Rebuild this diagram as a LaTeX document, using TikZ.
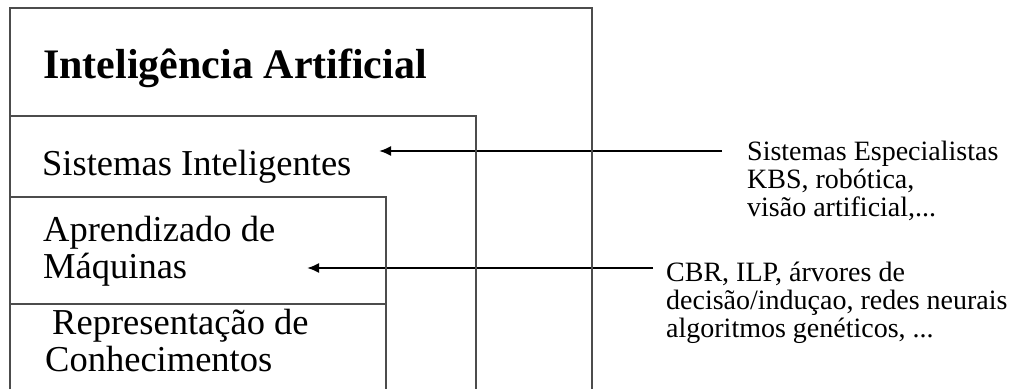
\documentclass[tikz,border=0pt]{standalone}
\usepackage{fontspec}
\setmainfont{Liberation Serif}
\usetikzlibrary{arrows.meta}
\newcommand{\TitleSize}{\fontsize{42}{42}\selectfont}
\newcommand{\BoxSize}{\fontsize{36.5}{37}\selectfont}
\newcommand{\NoteSize}{\fontsize{28}{28}\selectfont}

\begin{document}
\begin{tikzpicture}[x=1pt,y=-1pt,
        boxline/.style={draw=black!70,line width=1.3pt},
        boxtext/.style={inner sep=0pt,anchor=base west,align=left,font=\BoxSize},
        notetext/.style={boxtext,font=\NoteSize},
        linkarrow/.style={-{Latex[length=12pt,width=10pt]},line width=2pt}]
                \useasboundingbox (0,0) rectangle (1017,389);

                \coordinate (sistart) at (722,151);
                \coordinate (sitip) at (379,151);
                \coordinate (amstart) at (653,268);
                \coordinate (amtip) at (307,268);
                \draw[linkarrow] (sistart) -- (sitip);
                \draw[linkarrow] (amstart) -- (amtip);

                % nested boxes, open at the bottom
                \draw[boxline] (10,389) -- (10,8) -- (592,8) -- (592,389);
                \draw[boxline] (10,116) -- (476,116) -- (476,389);
                \draw[boxline] (10,197) -- (386,197) -- (386,389);
                \draw[boxline] (10,304) -- (386,304);

                % base anchor = baseline of the last line
                \draw (43,78) node[boxtext,font=\TitleSize\bfseries] (ia)
                    {Inteligência Artificial};
                \draw (42,175) node[boxtext] (si) {Sistemas Inteligentes};
                \draw (43,278) node[boxtext] (am) {Aprendizado de\\ Máquinas};
                \draw (45,371) node[boxtext] (rc)
                    {\hspace*{7pt}Representação de\\ Conhecimentos};

                \draw (747,216) node[notetext] (siex)
                    {Sistemas Especialistas\\ KBS, robótica,\\ visão artificial,...};
                \draw (666,337) node[notetext] (amex)
                    {CBR, ILP, árvores de\\ decisão/induçao, redes neurais\\ algoritmos genéticos, ...};
            \end{tikzpicture}
\end{document}
